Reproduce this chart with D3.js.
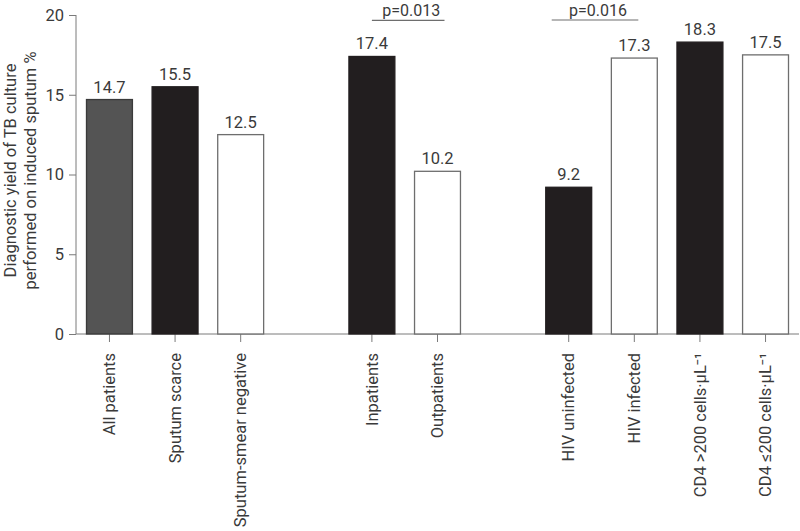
<!DOCTYPE html>
<html>
<head>
<meta charset="utf-8">
<script src="https://cdn.jsdelivr.net/npm/d3@7"></script>
<style>
  body { margin: 0; background: #fff; }
  text { font-family: Roboto, "DejaVu Sans Condensed", sans-serif; fill: #3a3a3a; }
</style>
</head>
<body>
<svg></svg>
<script>
// Dimensions of chart.
let vWidth = 800;
let vHeight = 531;
let vMargin = { top: 15, right: 1, bottom: 197, left: 76 };

// slots along the x axis, gaps are empty slots
let vSlots = ["All patients", "Sputum scarce", "Sputum-smear negative", "gap1",
  "Inpatients", "Outpatients", "gap2",
  "HIV uninfected", "HIV infected", "CD4 >200 cells·µL⁻¹", "CD4 ≤200 cells·µL⁻¹"];
let vCategories = ["All patients", "Sputum scarce", "Sputum-smear negative",
  "Inpatients", "Outpatients",
  "HIV uninfected", "HIV infected", "CD4 >200 cells·µL⁻¹", "CD4 ≤200 cells·µL⁻¹"];
let vValues = [14.7, 15.5, 12.5, 17.4, 10.2, 9.2, 17.3, 18.3, 17.5];
let vFills = ["grey", "black", "white", "black", "white", "black", "white", "black", "white"];
let vYTicks = [0, 5, 10, 15, 20];

// p-value brackets: from category, to category, label
let vPFrom = ["Inpatients", "HIV uninfected"];
let vPTo = ["Outpatients", "HIV infected"];
let vPLabels = ["p=0.013", "p=0.016"];

let vFillColor = { grey: "#545454", black: "#221e1f", white: "#ffffff" };
let vStrokeColor = { grey: "#3a3a3a", black: "#221e1f", white: "#6e6e6e" };

let svg = d3.select('svg')
  .attr('width', vWidth)
  .attr('height', vHeight)

let g = svg.append('g')
  .attr('transform', `translate(${vMargin.left}, ${vMargin.top})`)

let iw = vWidth - vMargin.left - vMargin.right;
let ih = vHeight - vMargin.top - vMargin.bottom;

let x = d3.scaleBand()
  .domain(vSlots)
  .range([0, iw])
  .paddingInner(0.3)
  .paddingOuter(0.16)

let y = d3.scaleLinear()
  .domain([0, 20])
  .range([ih, 0])

// y axis
let yAxis = g.append('g')
  .call(d3.axisLeft(y).tickValues(vYTicks).tickSize(7).tickPadding(5))
yAxis.select('.domain').attr('stroke', '#7a7a7a').attr('d', `M0,${ih}V0`)
yAxis.selectAll('.tick line').attr('stroke', '#7a7a7a')
yAxis.selectAll('.tick text').style('font-size', '16.5px').attr('fill', '#3a3a3a')

// x axis
let xAxis = g.append('g')
  .attr('transform', `translate(0, ${ih})`)
  .call(d3.axisBottom(x).tickValues(vCategories).tickSize(8).tickPadding(9))
xAxis.select('.domain').attr('stroke', '#7a7a7a').attr('d', `M0,0H${iw}`)
xAxis.selectAll('.tick line').attr('stroke', '#7a7a7a')
xAxis.selectAll('.tick text')
  .style('font-size', '16.5px')
  .attr('fill', '#3a3a3a')
  .attr('text-anchor', 'end')
  .attr('transform', 'rotate(-90)')
  .attr('x', -19)
  .attr('y', 0)
  .attr('dy', '0.35em')

// bars
let vBars = g.selectAll('rect.bar')
  .data(vCategories)
  .enter()
  .append('rect')
  .attr('class', 'bar')
  .attr('x', (d) => x(d))
  .attr('width', x.bandwidth())
  .attr('y', (d, i) => y(vValues[i]))
  .attr('height', (d, i) => ih - y(vValues[i]))
  .attr('fill', (d, i) => vFillColor[vFills[i]])
  .attr('stroke', (d, i) => vStrokeColor[vFills[i]])
  .attr('stroke-width', 1.3)

// value labels
g.selectAll('text.val')
  .data(vCategories)
  .enter()
  .append('text')
  .attr('class', 'val')
  .attr('x', (d) => x(d) + x.bandwidth() / 2)
  .attr('y', (d, i) => y(vValues[i]) - 7)
  .attr('text-anchor', 'middle')
  .style('font-size', '16.5px')
  .text((d, i) => vValues[i].toFixed(1))

// p-value brackets
vPLabels.forEach((lbl, i) => {
  let x0 = x(vPFrom[i]) + x.bandwidth() / 2 - (i === 1 ? 17 : 0);
  let x1 = x(vPTo[i]) + x.bandwidth() / 2 + (i === 0 ? 7 : 4);
  let yy = i === 0 ? y(19.92) - 1 : y(20);
  g.append('line')
    .attr('x1', x0).attr('x2', x1)
    .attr('y1', yy + 5).attr('y2', yy + 5)
    .attr('stroke', '#6e6e6e')
    .attr('stroke-width', 1.2)
  g.append('text')
    .attr('x', (x0 + x1) / 2 + 3)
    .attr('y', yy + 1)
    .attr('text-anchor', 'middle')
    .style('font-size', '16px')
    .text(lbl)
})

// y title
let vTitle = svg.append('text')
  .attr('transform', `translate(16, ${vMargin.top + ih / 2 - 4}) rotate(-90)`)
  .attr('text-anchor', 'middle')
  .style('font-size', '16.5px')
vTitle.append('tspan').attr('x', 0).attr('dy', 0).text('Diagnostic yield of TB culture')
vTitle.append('tspan').attr('x', 0).attr('dy', 20).text('performed on induced sputum %')
</script>
</body>
</html>
